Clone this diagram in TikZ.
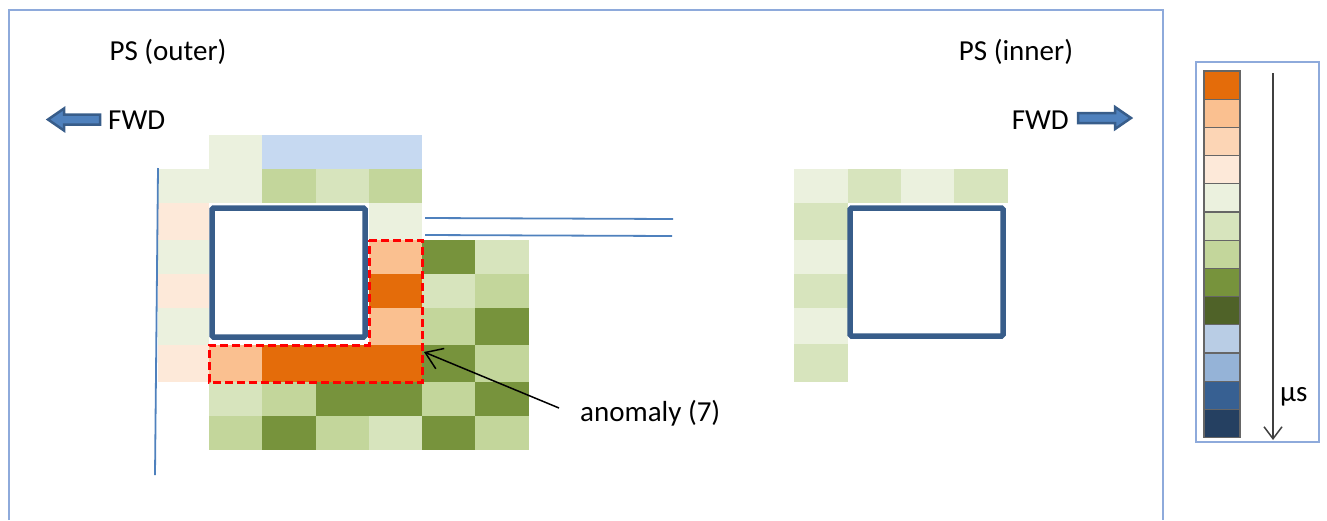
\documentclass[tikz,border=0pt]{standalone}
\usepackage{fontspec}
\setmainfont{Carlito}
\usetikzlibrary{arrows.meta}
\definecolor{gA}{HTML}{EBF1DE}
\definecolor{gB}{HTML}{D7E4BD}
\definecolor{gC}{HTML}{C3D69B}
\definecolor{gD}{HTML}{77933C}
\definecolor{gE}{HTML}{4F6228}
\definecolor{oA}{HTML}{FDE9D9}
\definecolor{oB}{HTML}{FCD5B5}
\definecolor{oC}{HTML}{FAC090}
\definecolor{oD}{HTML}{E46C0A}
\definecolor{bT}{HTML}{C6D9F1}
\definecolor{bA}{HTML}{B9CDE5}
\definecolor{bB}{HTML}{95B3D7}
\definecolor{bC}{HTML}{376092}
\definecolor{bD}{HTML}{254061}
\definecolor{boxblue}{HTML}{385D8A}
\definecolor{arrfill}{HTML}{4F81BD}
\definecolor{framec}{HTML}{8EAADB}
\tikzset{
  lbl/.style={font=\fontsize{29}{33}\selectfont, inner sep=0pt, text=black},
  frameline/.style={draw=framec, line width=1.3pt},
  hole/.style={draw=boxblue, line width=5.5pt, rounded corners=1.5pt, fill=white},
  anombox/.style={draw=red, line width=3pt, dash pattern=on 8pt off 4pt},
  blockarrow/.style={fill=arrfill, draw=boxblue, line width=2.5pt, line join=miter},
  thinblue/.style={draw=arrfill, line width=1.8pt},
  legcell/.style={draw=black!60, line width=1.2pt},
  pointer/.style={draw=black, line width=1.5pt, -{Straight Barb[length=16pt,width=22pt,line width=1.5pt]}}
}
\begin{document}
\begin{tikzpicture}[x=1pt,y=-1pt]
\useasboundingbox (0,0) rectangle (1327,520);
% main frame
\draw[frameline] (9,520) -- (9,10) -- (1163,10) -- (1163,520);
% left grid (PS outer)
\foreach \a/\b/\c/\d/\col in {
  209/135/262/169/gA, 262/135/422/169/bT,
  158/169/262/203/gA, 262/169/316/203/gC, 316/169/369/203/gB, 369/169/422/203/gC,
  158/203/209/240/oA, 369/203/422/240/gA,
  158/240/209/274/gA, 369/240/422/274/oC, 422/240/475/274/gD, 475/240/529/274/gB,
  158/274/209/308/oA, 369/274/422/308/oD, 422/274/475/308/gB, 475/274/529/308/gC,
  158/308/209/345/gA, 369/308/422/345/oC, 422/308/475/345/gC, 475/308/529/345/gD,
  158/345/209/382/oA, 209/345/262/382/oC, 262/345/422/382/oD, 422/345/475/382/gD, 475/345/529/382/gC,
  209/382/262/416/gB, 262/382/316/416/gC, 316/382/422/416/gD, 422/382/475/416/gC, 475/382/529/416/gD,
  209/416/262/450/gC, 262/416/316/450/gD, 316/416/369/450/gC, 369/416/422/450/gB, 422/416/475/450/gD, 475/416/529/450/gC}
  {\fill[\col] (\a,\b) rectangle (\c,\d);}
\draw[hole] (212,208) rectangle (365,337);
\draw[anombox] (369,240) -- (422,240) -- (422,382) -- (209,382) -- (209,345) -- (369,345) -- cycle;
\draw[thinblue] (158,168) -- (155,475);
\draw[thinblue] (425,218) -- (673,219);
\draw[thinblue] (425,235) -- (672,236);
% right grid (PS inner)
\foreach \a/\b/\c/\d/\col in {
  794/169/848/203/gA, 848/169/901/203/gB, 901/169/954/203/gA, 954/169/1008/203/gB,
  794/203/848/240/gB, 794/240/848/274/gA, 794/274/848/308/gB, 794/308/848/344/gA, 794/344/848/382/gB}
  {\fill[\col] (\a,\b) rectangle (\c,\d);}
\draw[hole] (850,208) rectangle (1003,336);
% labels
\node[lbl] (outer) at (168,52) {PS (outer)};
\node[lbl] (inner) at (1016,52) {PS (inner)};
\node[lbl, anchor=west] (fwdl) at (108,120) {FWD};
\node[lbl, anchor=east] (fwdr) at (1069,120) {FWD};
\node[lbl, anchor=west] (anom) at (580,413) {anomaly (7)};
% block arrows
\draw[blockarrow] (48,119.5) -- (64,108.5) -- (64,114.5) -- (100,114.5) -- (100,124.5) -- (64,124.5) -- (64,130.5) -- cycle;
\draw[blockarrow] (1131,118) -- (1115,107) -- (1115,113) -- (1078,113) -- (1078,123) -- (1115,123) -- (1115,129) -- cycle;
% anomaly pointer
\coordinate (ptail) at (559,408);
\coordinate (ptip) at (424,352);
\draw[pointer] (ptail) -- (ptip);
% legend
\draw[frameline] (1196,62) rectangle (1319,442);
\foreach \col [count=\i from 0] in {oD,oC,oB,oA,gA,gB,gC,gD,gE,bA,bB,bC,bD}
  {\draw[legcell, fill=\col] (1204,{71+28.2*\i}) rectangle (1240,{71+28.2*(\i+1)});}
\coordinate (ltop) at (1273,73);
\coordinate (lbot) at (1273,440);
\draw[draw=black!75, line width=1.5pt, -{Straight Barb[length=12pt,width=18pt,line width=1.5pt]}] (ltop) -- (lbot);
\node[lbl, anchor=west] (mus) at (1280,397) {µs};
\end{tikzpicture}
\end{document}
